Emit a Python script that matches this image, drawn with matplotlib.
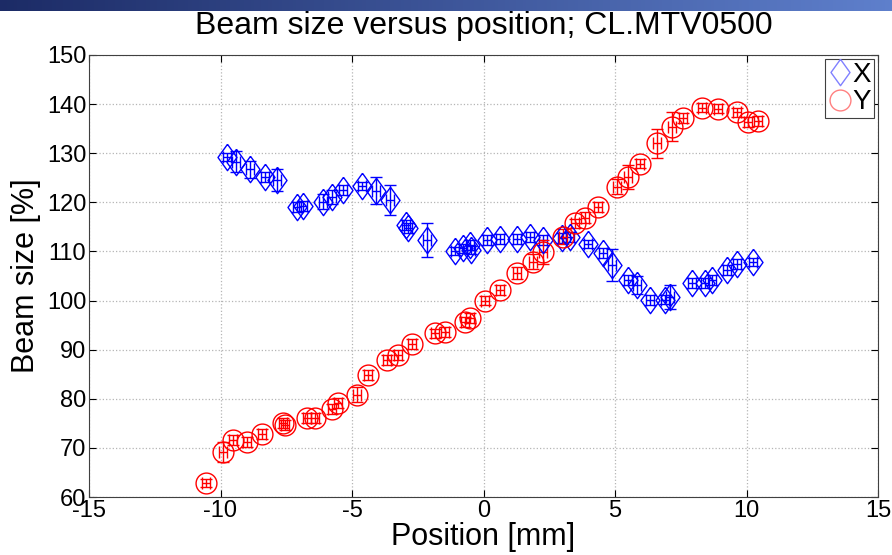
import numpy as np
import matplotlib
matplotlib.use('Agg')
import matplotlib.pyplot as plt
from matplotlib.lines import Line2D

# X beam size data (blue diamonds)
x_pos = [-9.76, -9.41, -8.88, -8.31, -7.86, -7.10, -6.85, -6.09, -5.77, -5.33,
         -4.63, -4.09, -3.56, -2.95, -2.86, -2.15, -1.08, -0.77, -0.51, -0.49,
         0.12, 0.63, 1.26, 1.77, 2.27, 2.97, 3.29, 3.99, 4.56, 4.90,
         5.51, 5.83, 6.33, 6.90, 7.09, 7.92, 8.42, 8.68, 9.25, 9.63, 10.26]
x_size = [129.3, 128.3, 126.7, 125.2, 124.5, 119.1, 119.2, 120.1, 121.1, 122.5,
          123.3, 122.4, 120.5, 115.4, 114.8, 112.3, 110.1, 110.6, 111.3, 110.3,
          112.3, 112.5, 112.5, 112.9, 112.3, 112.7, 113.0, 111.6, 109.7, 107.2,
          104.2, 103.2, 100.1, 100.2, 100.7, 103.5, 103.5, 104.2, 106.2, 107.4, 107.9]
x_err = [0.8, 2.2, 1.8, 1.0, 2.2, 1.0, 1.0, 1.5, 1.5, 1.0,
         0.8, 2.7, 3.0, 1.0, 1.0, 3.4, 0.8, 1.0, 1.0, 0.8,
         1.0, 1.0, 1.0, 1.0, 1.0, 1.0, 1.0, 0.8, 1.0, 3.3,
         1.0, 1.8, 1.0, 1.0, 2.5, 1.0, 1.0, 1.0, 1.0, 1.0, 0.8]

# Y beam size data (red circles)
y_pos = [-10.55, -9.89, -9.51, -9.00, -8.43, -7.61, -7.55, -6.72, -6.41, -5.77,
         -5.52, -4.82, -4.38, -3.68, -3.24, -2.73, -1.84, -1.46, -0.70, -0.51,
         0.06, 0.63, 1.26, 1.89, 2.27, 3.03, 3.48, 3.86, 4.37, 5.06,
         5.51, 5.95, 6.59, 7.16, 7.60, 8.30, 8.93, 9.63, 10.07, 10.45]
y_size = [62.8, 69.2, 71.6, 71.2, 72.8, 75.0, 74.6, 76.1, 76.1, 78.0,
          79.1, 80.8, 84.8, 87.9, 88.9, 91.1, 93.3, 93.6, 95.7, 96.4,
          100.0, 102.1, 105.6, 107.9, 109.9, 113.0, 115.7, 116.9, 119.1, 123.2,
          125.2, 127.9, 132.0, 135.4, 137.1, 139.3, 139.1, 138.3, 136.4, 136.6]
y_err = [0.8, 2.0, 1.0, 1.0, 1.0, 1.0, 1.0, 1.0, 1.0, 1.0,
         1.0, 1.5, 1.0, 1.0, 1.0, 1.0, 1.0, 1.0, 1.0, 1.0,
         1.0, 1.0, 1.2, 1.5, 2.5, 1.5, 1.0, 1.2, 1.0, 1.5,
         2.5, 1.0, 3.0, 3.0, 1.0, 1.0, 1.0, 1.0, 1.0, 1.0]

pos_err = 0.15

plt.rcParams['font.family'] = ['Liberation Sans', 'DejaVu Sans']
plt.rcParams['axes.unicode_minus'] = False

fig = plt.figure(figsize=(8.92, 5.55), dpi=100)

# slide header gradient bar
bar = fig.add_axes([0, 1 - 11 / 555, 1, 11 / 555])
grad = np.linspace(0, 1, 256)
c0 = np.array([0.11, 0.17, 0.40])
c1 = np.array([0.37, 0.50, 0.80])
img = c0[None, :] + grad[:, None] * (c1 - c0)[None, :]
bar.imshow(img[None, :, :], aspect='auto', extent=[0, 1, 0, 1])
bar.axis('off')

ax = fig.add_axes([89 / 892, 1 - 497 / 555, (878 - 89) / 892, (497 - 55) / 555])

diamond = [(0, 1), (0.72, 0), (0, -1), (-0.72, 0), (0, 1)]

ax.errorbar(x_pos, x_size, yerr=x_err, xerr=pos_err, fmt='none', ecolor='blue',
            elinewidth=1, capsize=4, capthick=1, zorder=3)
ax.plot(x_pos, x_size, linestyle='none', marker=diamond, markersize=19,
        markerfacecolor='none', markeredgecolor='blue', markeredgewidth=1, zorder=4)

ax.errorbar(y_pos, y_size, yerr=y_err, xerr=pos_err, fmt='none', ecolor='red',
            elinewidth=1, capsize=4, capthick=1, zorder=3)
ax.plot(y_pos, y_size, linestyle='none', marker='o', markersize=15,
        markerfacecolor='none', markeredgecolor='red', markeredgewidth=1, zorder=4)

ax.set_xlim(-15, 15)
ax.set_ylim(60, 150)
ax.set_xticks(np.arange(-15, 16, 5))
ax.set_yticks(np.arange(60, 151, 10))
ax.grid(True, linestyle=':', color='#b5b5b5', linewidth=0.9)
ax.tick_params(direction='in', top=True, right=True, length=5, labelsize=17, pad=2)
for s in ax.spines.values():
    s.set_color('#404040')
    s.set_linewidth(0.8)

ax.set_title('Beam size versus position; CL.MTV0500', fontsize=23, pad=15)
ax.set_xlabel('Position [mm]', fontsize=22, labelpad=0)
ax.set_ylabel('Beam size [%]', fontsize=22, labelpad=4)

handles = [
    Line2D([], [], linestyle='none', marker=diamond, markersize=19, markerfacecolor='none',
           markeredgecolor='#8080ff', markeredgewidth=1),
    Line2D([], [], linestyle='none', marker='o', markersize=15, markerfacecolor='none',
           markeredgecolor='#ff8080', markeredgewidth=1),
]
leg = ax.legend(handles, ['X', 'Y'], loc='upper right', fontsize=20, frameon=True,
                fancybox=False, edgecolor='#404040', framealpha=1,
                handlelength=0.9, handletextpad=0.0, borderpad=0.1,
                labelspacing=0.05, borderaxespad=0.15)
leg.get_frame().set_linewidth(0.8)

fig.savefig('out.png', dpi=100)
